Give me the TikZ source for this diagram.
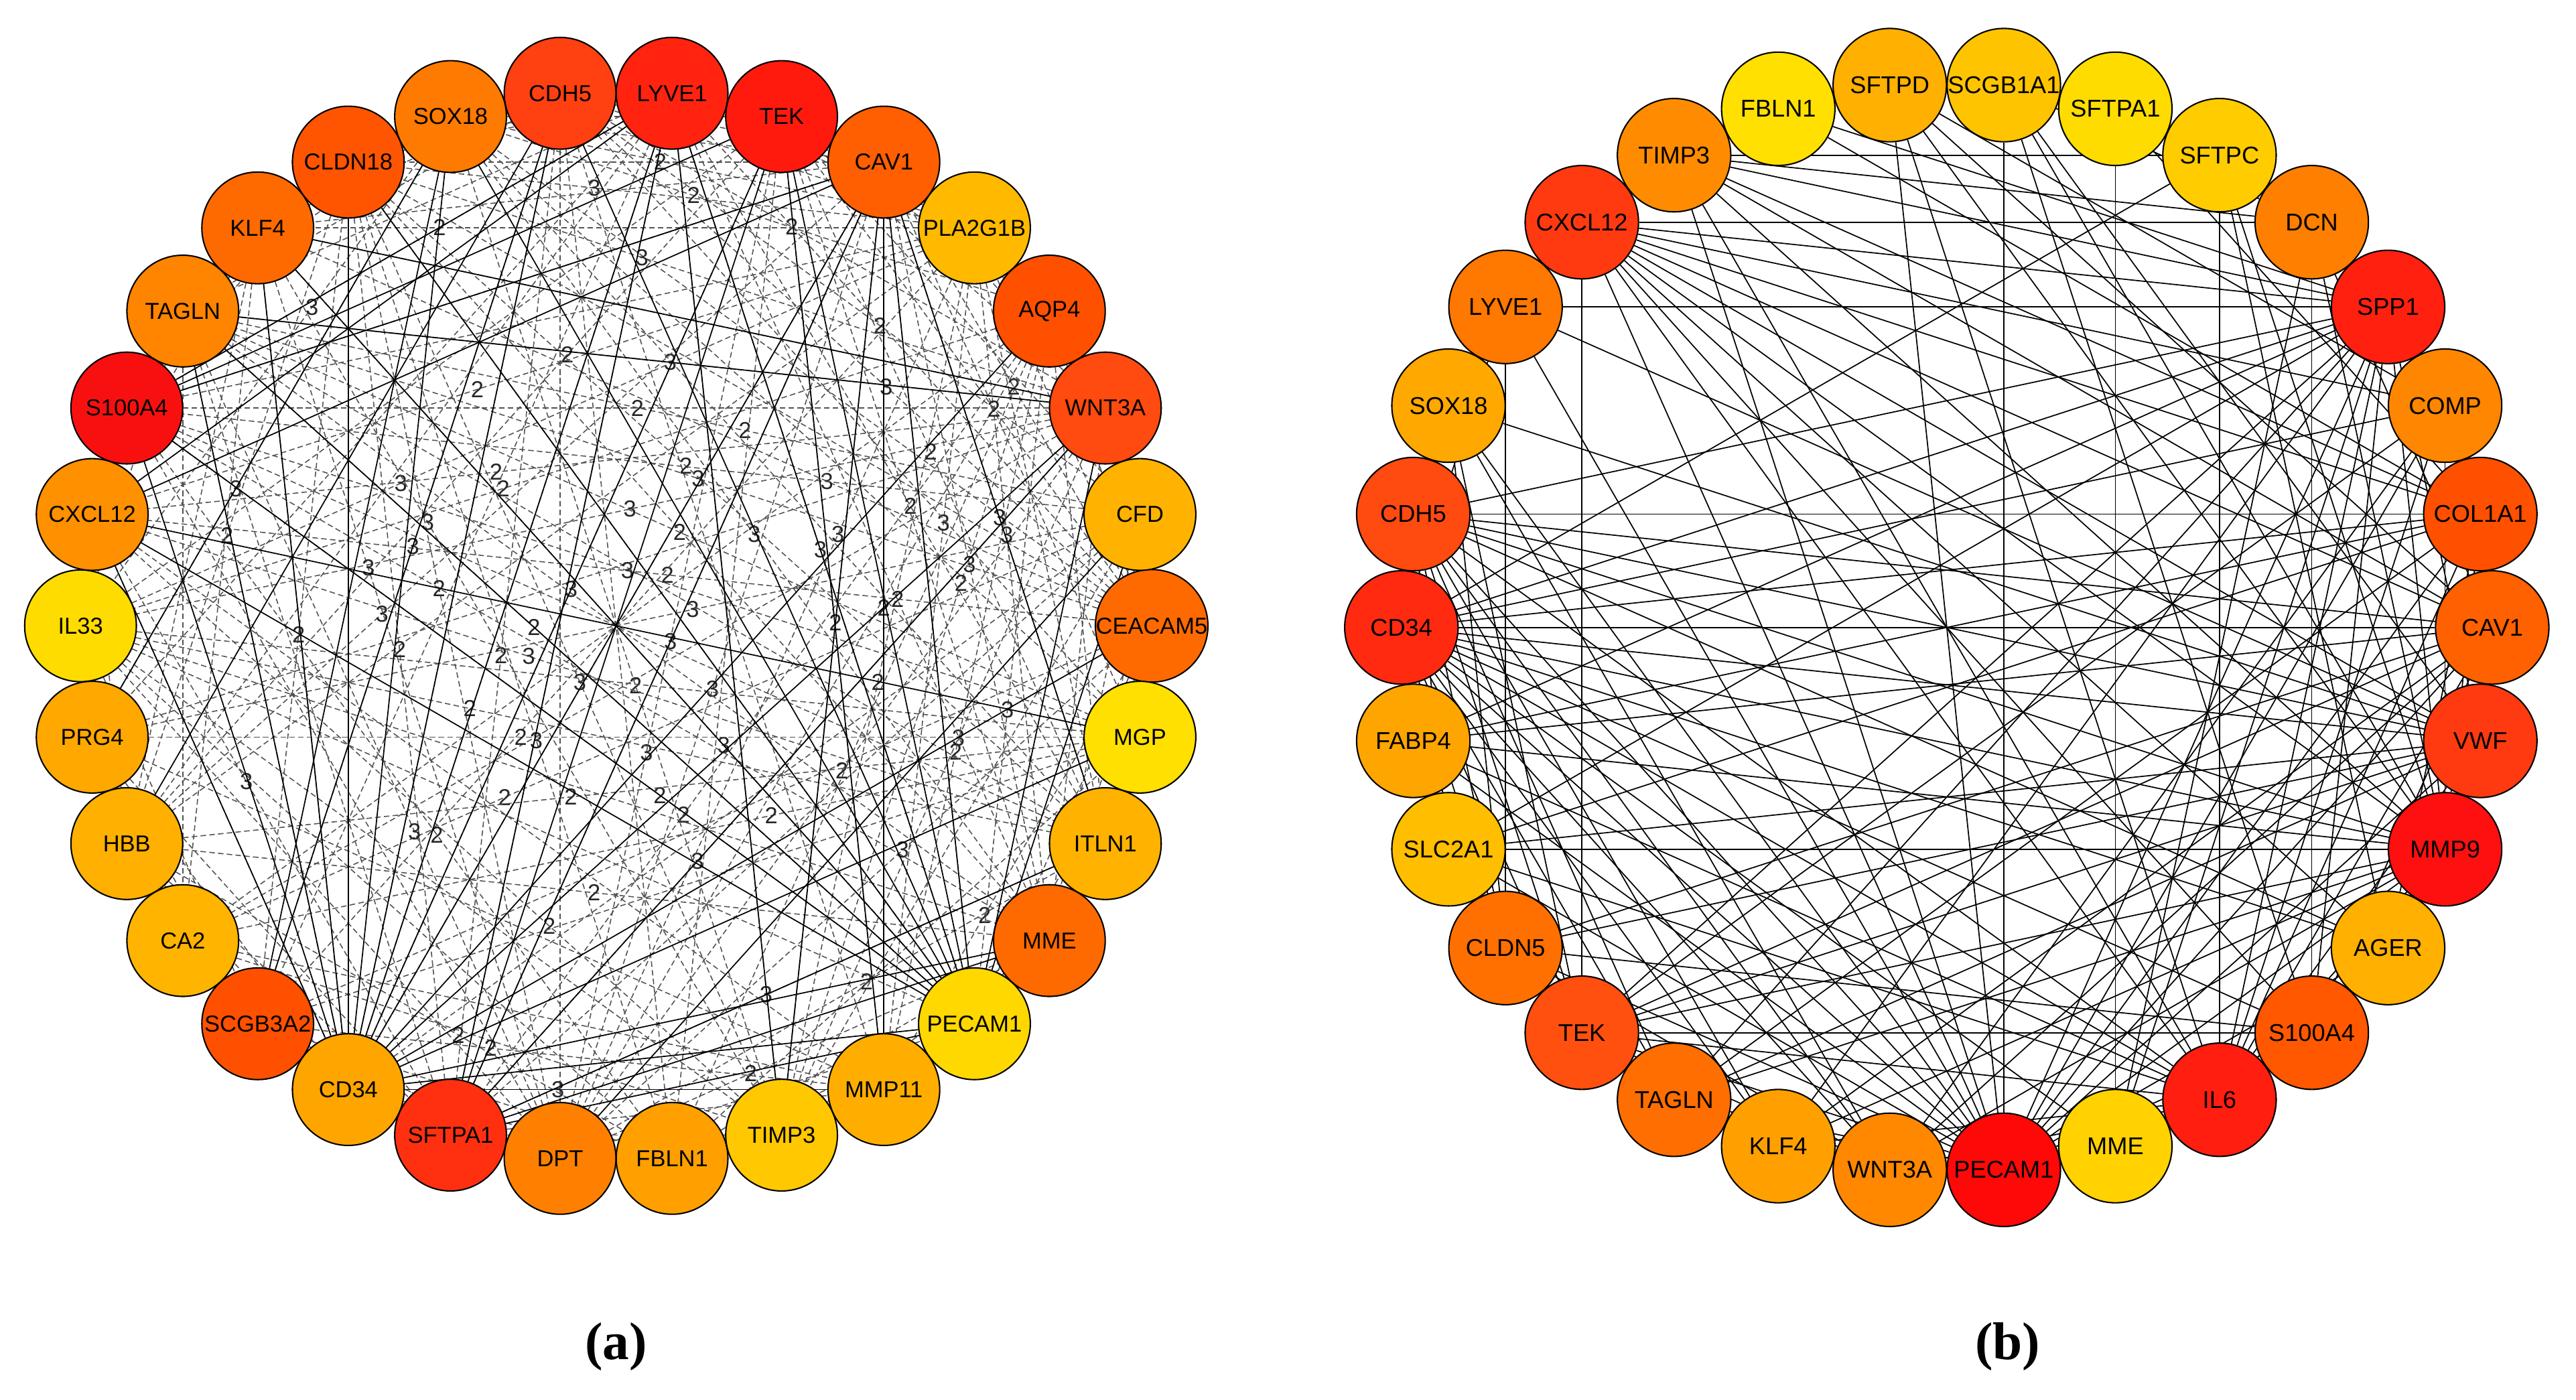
\documentclass[tikz,border=0pt]{standalone}
\usepackage{fontspec}
\setmainfont{Liberation Serif}
\newfontfamily\genefont{Liberation Sans}
\usetikzlibrary{backgrounds}

\begin{document}
\begin{tikzpicture}[x=0.025cm,y=-0.025cm,
    gene/.style={circle,draw=black,line width=0.6pt,inner sep=0pt,text=black,
      font=\genefont\fontsize{10}{12}\selectfont},
    weak/.style={draw=black!68,line width=0.45pt,dash pattern=on 2.4pt off 1.4pt},
    strong/.style={draw=black,line width=0.5pt},
    wlabel/.style={font=\genefont\fontsize{10}{11}\selectfont,text=black!85,inner sep=0.5pt},
    panel/.style={font=\fontsize{23}{27}\selectfont\bfseries}]
  \useasboundingbox (0,0) rectangle (1568,852);

  % (a) ring of 30 genes
  \foreach \k/\gname/\hex in {0/CEACAM5/FF6A00,1/CFD/FFB300,2/WNT3A/FF4A10,3/AQP4/FF5000,
      4/PLA2G1B/FFBA00,5/CAV1/FF5F00,6/TEK/FF1A0D,7/LYVE1/FF2310,8/CDH5/FF4010,
      9/SOX18/FF7A00,10/CLDN18/FF5500,11/KLF4/FF6A00,12/TAGLN/FF8400,13/S100A4/F81010,
      14/CXCL12/FF9000,15/IL33/FFDC00,16/PRG4/FFA800,17/HBB/FFB000,18/CA2/FFB400,
      19/SCGB3A2/FF5000,20/CD34/FFA500,21/SFTPA1/FF3010,22/DPT/FF8000,23/FBLN1/FFA000,
      24/TIMP3/FFC800,25/MMP11/FFAE00,26/PECAM1/FFD800,27/MME/FF6A00,28/ITLN1/FFB300,
      29/MGP/FFE000} {
    \definecolor{genefill}{HTML}{\hex}
    \node[gene,fill=genefill,minimum size=1.7cm] (a\k)
      at ({375+326*cos(12*\k)},{381-326*sin(12*\k)}) {\gname};
  }

  % (b) ring of 30 genes
  \foreach \k/\gname/\hex in {0/CAV1/FF6000,1/COL1A1/FF5000,2/COMP/FF8600,3/SPP1/FF2010,
      4/DCN/FF7F00,5/SFTPC/FFCC00,6/SFTPA1/FFDC00,7/SCGB1A1/FFC400,8/SFTPD/FFB000,
      9/FBLN1/FFE000,10/TIMP3/FF8C00,11/CXCL12/FF3A10,12/LYVE1/FF7800,13/SOX18/FFA800,
      14/CDH5/FF4A10,15/CD34/FF2A10,16/FABP4/FFA500,17/SLC2A1/FFBE00,18/CLDN5/FF7000,
      19/TEK/FF5010,20/TAGLN/FF6E00,21/KLF4/FFA000,22/WNT3A/FF8800,23/PECAM1/FF0808,
      24/MME/FFD200,25/IL6/FF1E10,26/S100A4/FF5800,27/AGER/FFB000,28/MMP9/FF1010,
      29/VWF/FF3A10} {
    \definecolor{genefill}{HTML}{\hex}
    \node[gene,fill=genefill,minimum size=1.725cm,font=\genefont\fontsize{10.5}{12}\selectfont] (b\k)
      at ({1185+332*cos(12*\k)},{382-332*sin(12*\k)}) {\gname};
  }

  \begin{scope}[on background layer]
    % weighted (dashed) links of (a)
    \pgfmathsetseed{2187}
    \foreach \i in {0,...,28} {
      \pgfmathtruncatemacro\inext{\i+1}
      \foreach \j in {\inext,...,29} {
        \pgfmathsetmacro\roll{rnd}
        \ifdim\roll pt<0.5pt
          \pgfmathtruncatemacro\wt{rnd<0.5 ? 2 : 3}
          \pgfmathsetmacro\spot{0.3+0.4*rnd}
          \pgfmathsetmacro\labroll{rnd}
          \pgfmathtruncatemacro\gap{min(\j-\i,30-\j+\i)}
          \ifdim\labroll pt<0.5pt
            \ifnum\gap>4
              \draw[weak] (a\i) -- node[pos=\spot,wlabel] {\wt} (a\j);
            \else
              \draw[weak] (a\i) -- (a\j);
            \fi
          \else
            \draw[weak] (a\i) -- (a\j);
          \fi
        \fi
      }
    }
    % solid links of (a)
    \foreach \i/\j in {26/14,26/12,26/11,26/10,26/9,26/8,26/7,26/6,26/5,26/13,26/21,26/20,
        26/2,26/1,20/8,20/9,20/7,20/6,20/5,20/2,20/3,20/11,20/12,20/10,20/13,20/14,20/27,
        20/25,20/0,20/29,21/6,21/5,21/2,21/7,21/27,21/28,13/5,13/6,14/5,14/7,13/7,14/29,
        12/2,11/2,5/24,5/25,6/25,7/24,19/9,19/8,16/9,17/8,28/5,1/22}
      \draw[strong] (a\i) -- (a\j);
    % links of (b)
    \foreach \i/\j in {11/4,11/3,11/2,11/1,11/0,11/29,11/28,11/27,11/26,11/25,11/23,11/19,
        10/4,10/3,10/1,10/0,10/28,10/25,10/23,10/5,9/3,9/1,
        8/2,8/0,8/28,8/25,8/23,7/23,7/5,7/4,7/29,7/28,7/26,6/1,6/24,6/4,
        5/25,5/28,5/15,5/27,4/26,4/28,4/0,4/24,
        3/12,3/14,3/15,3/16,3/19,3/23,3/24,3/25,3/26,3/28,3/29,3/20,3/21,3/17,
        2/15,2/23,2/22,2/19,2/25,2/28,
        1/14,1/15,1/16,1/23,1/25,1/20,1/17,1/28,1/27,
        0/14,0/15,0/16,0/18,0/19,0/23,0/22,0/21,0/25,0/26,0/28,
        29/14,29/15,29/17,29/18,29/19,29/23,29/12,29/13,29/20,29/28,29/25,
        28/15,28/14,28/16,28/19,28/20,28/21,28/22,28/23,28/25,28/26,28/27,28/17,
        27/15,27/23,27/25,27/14,26/23,26/15,26/19,26/18,
        25/15,25/14,25/19,25/21,25/22,25/23,25/16,25/17,24/15,
        23/15,23/14,23/16,23/17,23/18,23/19,23/20,23/21,23/22,23/12,23/13,
        15/14,15/16,15/18,15/19,15/20,15/21,15/22,15/13,15/12,
        14/13,14/16,14/17,14/18,14/19,14/20,14/21,14/22,
        12/18,12/13,13/18,13/19,13/22,18/19,18/20,18/22,19/20,19/22}
      \draw[strong] (b\i) -- (b\j);
  \end{scope}

  \node[panel] (tagA) at (375,820) {(a)};
  \node[panel] (tagB) at (1222,820) {(b)};
\end{tikzpicture}
\end{document}
